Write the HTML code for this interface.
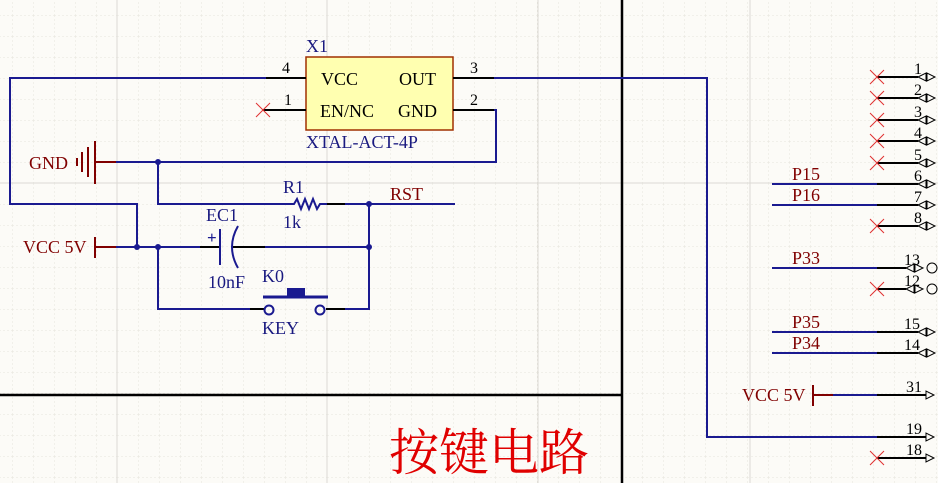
<!DOCTYPE html>
<html><head><meta charset="utf-8"><style>
html,body{margin:0;padding:0;background:#fcfbf7;}
svg{display:block}
text{font-family:"Liberation Serif",serif;}
</style></head><body>
<svg width="938" height="483" viewBox="0 0 938 483" xmlns="http://www.w3.org/2000/svg">
<defs>
<pattern id="minor" width="21" height="21" patternUnits="userSpaceOnUse" x="12" y="15">
<path d="M0 0V21M0 0H21" stroke="#e6e4dc" stroke-width="1" stroke-dasharray="2 2" fill="none"/>
</pattern>
</defs>
<rect width="938" height="483" fill="#fcfbf7"/>
<rect width="938" height="483" fill="url(#minor)"/>
<g stroke="#dcdad4" stroke-width="1">
<line x1="117" y1="0" x2="117" y2="483"/><line x1="327" y1="0" x2="327" y2="483"/>
<line x1="538" y1="0" x2="538" y2="483"/><line x1="750" y1="0" x2="750" y2="483"/>
<line x1="0" y1="183" x2="938" y2="183"/>
</g>
<g stroke="#000" stroke-width="2.5">
<line x1="622" y1="0" x2="622" y2="483"/>
<line x1="0" y1="395" x2="622" y2="395"/>
</g>
<text x="389" y="470" font-size="50" fill="#e00000" style='font-family:"Noto Serif CJK SC","Noto Sans CJK SC",serif'>按键电路</text>

<rect x="306" y="57" width="147" height="73" fill="#ffffb0" stroke="#a03000" stroke-width="1.5"/>
<g fill="#000" font-size="18">
<text x="321" y="85">VCC</text><text x="399" y="85">OUT</text>
<text x="320" y="117">EN/NC</text><text x="398" y="117">GND</text>
</g>
<g fill="#1a1a80" font-size="18">
<text x="306" y="52">X1</text>
<text x="306" y="148">XTAL-ACT-4P</text>
<text x="206" y="221">EC1</text><text x="208" y="288">10nF</text>
<text x="283" y="193">R1</text><text x="283" y="228">1k</text>
<text x="262" y="282">K0</text><text x="262" y="334">KEY</text>
</g>
<g fill="#000" font-size="16">
<text x="282" y="73">4</text><text x="284" y="105">1</text>
<text x="470" y="73">3</text><text x="470" y="105">2</text>
</g>
<g stroke="#000" stroke-width="2"><line x1="266" y1="78" x2="306" y2="78"/><line x1="263" y1="110" x2="306" y2="110"/>
<line x1="453" y1="78" x2="494" y2="78"/><line x1="453" y1="110" x2="494" y2="110"/>
<line x1="327" y1="204" x2="345" y2="204"/>
<line x1="200" y1="247" x2="220" y2="247"/><line x1="233" y1="247" x2="265" y2="247"/>
<line x1="250" y1="309" x2="264" y2="309"/><line x1="326" y1="309" x2="345" y2="309"/>
</g>
<g stroke="#e03030" stroke-width="1"><line x1="256" y1="103" x2="270" y2="117"/><line x1="256" y1="117" x2="270" y2="103"/></g>
<g stroke="#1a1a90" stroke-width="2" fill="none">
<polyline points="266,78 10,78 10,204 137,204 137,247"/>
<polyline points="494,78 707,78 707,437 877,437"/>
<polyline points="494,110 496,110 496,162 116,162"/>
<polyline points="158,162 158,204 290,204"/>
<polyline points="345,204 455,204"/>
<polyline points="116,247 200,247"/>
<polyline points="265,247 369,247"/>
<polyline points="369,204 369,309 345,309"/>
<polyline points="158,247 158,309 250,309"/>
</g>
<g fill="#1a1a90"><circle cx="158" cy="162" r="3"/><circle cx="369" cy="204" r="3"/><circle cx="137" cy="247" r="3"/><circle cx="158" cy="247" r="3"/><circle cx="369" cy="247" r="3"/></g>
<polyline points="290,204 294,204 297,199 301,209 305,199 309,209 313,199 317,209 320,204 327,204" stroke="#1a1a90" stroke-width="2" fill="none"/>
<line x1="220" y1="229" x2="220" y2="265" stroke="#1a1a90" stroke-width="2"/>
<path d="M238 226 Q226 247 238 268" stroke="#1a1a90" stroke-width="2" fill="none"/>
<text x="207" y="243" font-size="17" fill="#1a1a90" font-weight="bold">+</text>
<line x1="263" y1="297" x2="328" y2="297" stroke="#1a1a90" stroke-width="3"/>
<rect x="287" y="288" width="18" height="9" fill="#1a1a90"/>
<circle cx="269" cy="310" r="4.5" fill="none" stroke="#1a1a90" stroke-width="2"/>
<circle cx="320" cy="310" r="4.5" fill="none" stroke="#1a1a90" stroke-width="2"/>
<g stroke="#800000" stroke-width="2">
<line x1="95" y1="162" x2="116" y2="162"/><line x1="95" y1="141" x2="95" y2="184"/>
<line x1="88" y1="147" x2="88" y2="177"/><line x1="82" y1="152" x2="82" y2="172"/><line x1="77" y1="158" x2="77" y2="166"/>
<line x1="95" y1="247" x2="116" y2="247"/><line x1="95" y1="237" x2="95" y2="258"/>
<line x1="813" y1="395" x2="833" y2="395"/><line x1="813" y1="385" x2="813" y2="406"/>
</g>
<g fill="#800000" font-size="18">
<text x="29" y="169">GND</text><text x="23" y="253">VCC 5V</text>
<text x="390" y="200">RST</text>
<text x="742" y="401">VCC 5V</text>
<text x="792" y="180">P15</text><text x="792" y="201">P16</text><text x="792" y="264">P33</text>
<text x="792" y="328">P35</text><text x="792" y="349">P34</text>
</g>
<g stroke="#1a1a90" stroke-width="2">
<line x1="772" y1="184" x2="877" y2="184"/><line x1="772" y1="205" x2="877" y2="205"/>
<line x1="772" y1="268" x2="877" y2="268"/><line x1="772" y1="332" x2="877" y2="332"/>
<line x1="772" y1="353" x2="877" y2="353"/><line x1="833" y1="395" x2="877" y2="395"/>
</g>
<g stroke="#000" stroke-width="2">
<line x1="877" y1="77" x2="918" y2="77"/><line x1="877" y1="98" x2="918" y2="98"/><line x1="877" y1="120" x2="918" y2="120"/>
<line x1="877" y1="141" x2="918" y2="141"/><line x1="877" y1="163" x2="918" y2="163"/><line x1="877" y1="184" x2="918" y2="184"/>
<line x1="877" y1="205" x2="918" y2="205"/><line x1="877" y1="226" x2="918" y2="226"/><line x1="877" y1="268" x2="906" y2="268"/>
<line x1="877" y1="289" x2="906" y2="289"/><line x1="877" y1="332" x2="918" y2="332"/><line x1="877" y1="353" x2="918" y2="353"/>
<line x1="877" y1="395" x2="926" y2="395"/><line x1="877" y1="437" x2="926" y2="437"/><line x1="877" y1="458" x2="926" y2="458"/>
</g>
<g stroke="#e03030" stroke-width="1">
<path d="M870 70l14 14M870 84l14-14M870 91l14 14M870 105l14-14M870 113l14 14M870 127l14-14M870 134l14 14M870 148l14-14M870 156l14 14M870 170l14-14M870 219l14 14M870 233l14-14M870 282l14 14M870 296l14-14M870 451l14 14M870 465l14-14"/>
</g>
<g stroke="#000" stroke-width="1" fill="none">
<path d="M918 77l8-4v8zM927 73v8l8-4zM918 98l8-4v8zM927 94v8l8-4zM918 120l8-4v8zM927 116v8l8-4zM918 141l8-4v8zM927 137v8l8-4zM918 163l8-4v8zM927 159v8l8-4zM918 184l8-4v8zM927 180v8l8-4zM918 205l8-4v8zM927 201v8l8-4zM918 226l8-4v8zM927 222v8l8-4zM918 332l8-4v8zM927 328v8l8-4zM918 353l8-4v8zM927 349v8l8-4z"/>
<path d="M906 268l8-4v8zM915 264v8l8-4zM906 289l8-4v8zM915 285v8l8-4z"/>
<circle cx="932" cy="268" r="5"/><circle cx="932" cy="289" r="5"/>
<path d="M926 391v8l8-4zM926 433v8l8-4zM926 454v8l8-4z"/>
</g>
<g fill="#000" font-size="16">
<text x="914" y="74">1</text><text x="914" y="95">2</text><text x="914" y="117">3</text><text x="914" y="138">4</text>
<text x="914" y="160">5</text><text x="914" y="181">6</text><text x="914" y="202">7</text><text x="914" y="223">8</text>
<text x="904" y="265">13</text><text x="904" y="286">12</text><text x="904" y="329">15</text><text x="904" y="350">14</text>
<text x="906" y="392">31</text><text x="906" y="434">19</text><text x="906" y="455">18</text>
</g>
</svg>
</body></html>
